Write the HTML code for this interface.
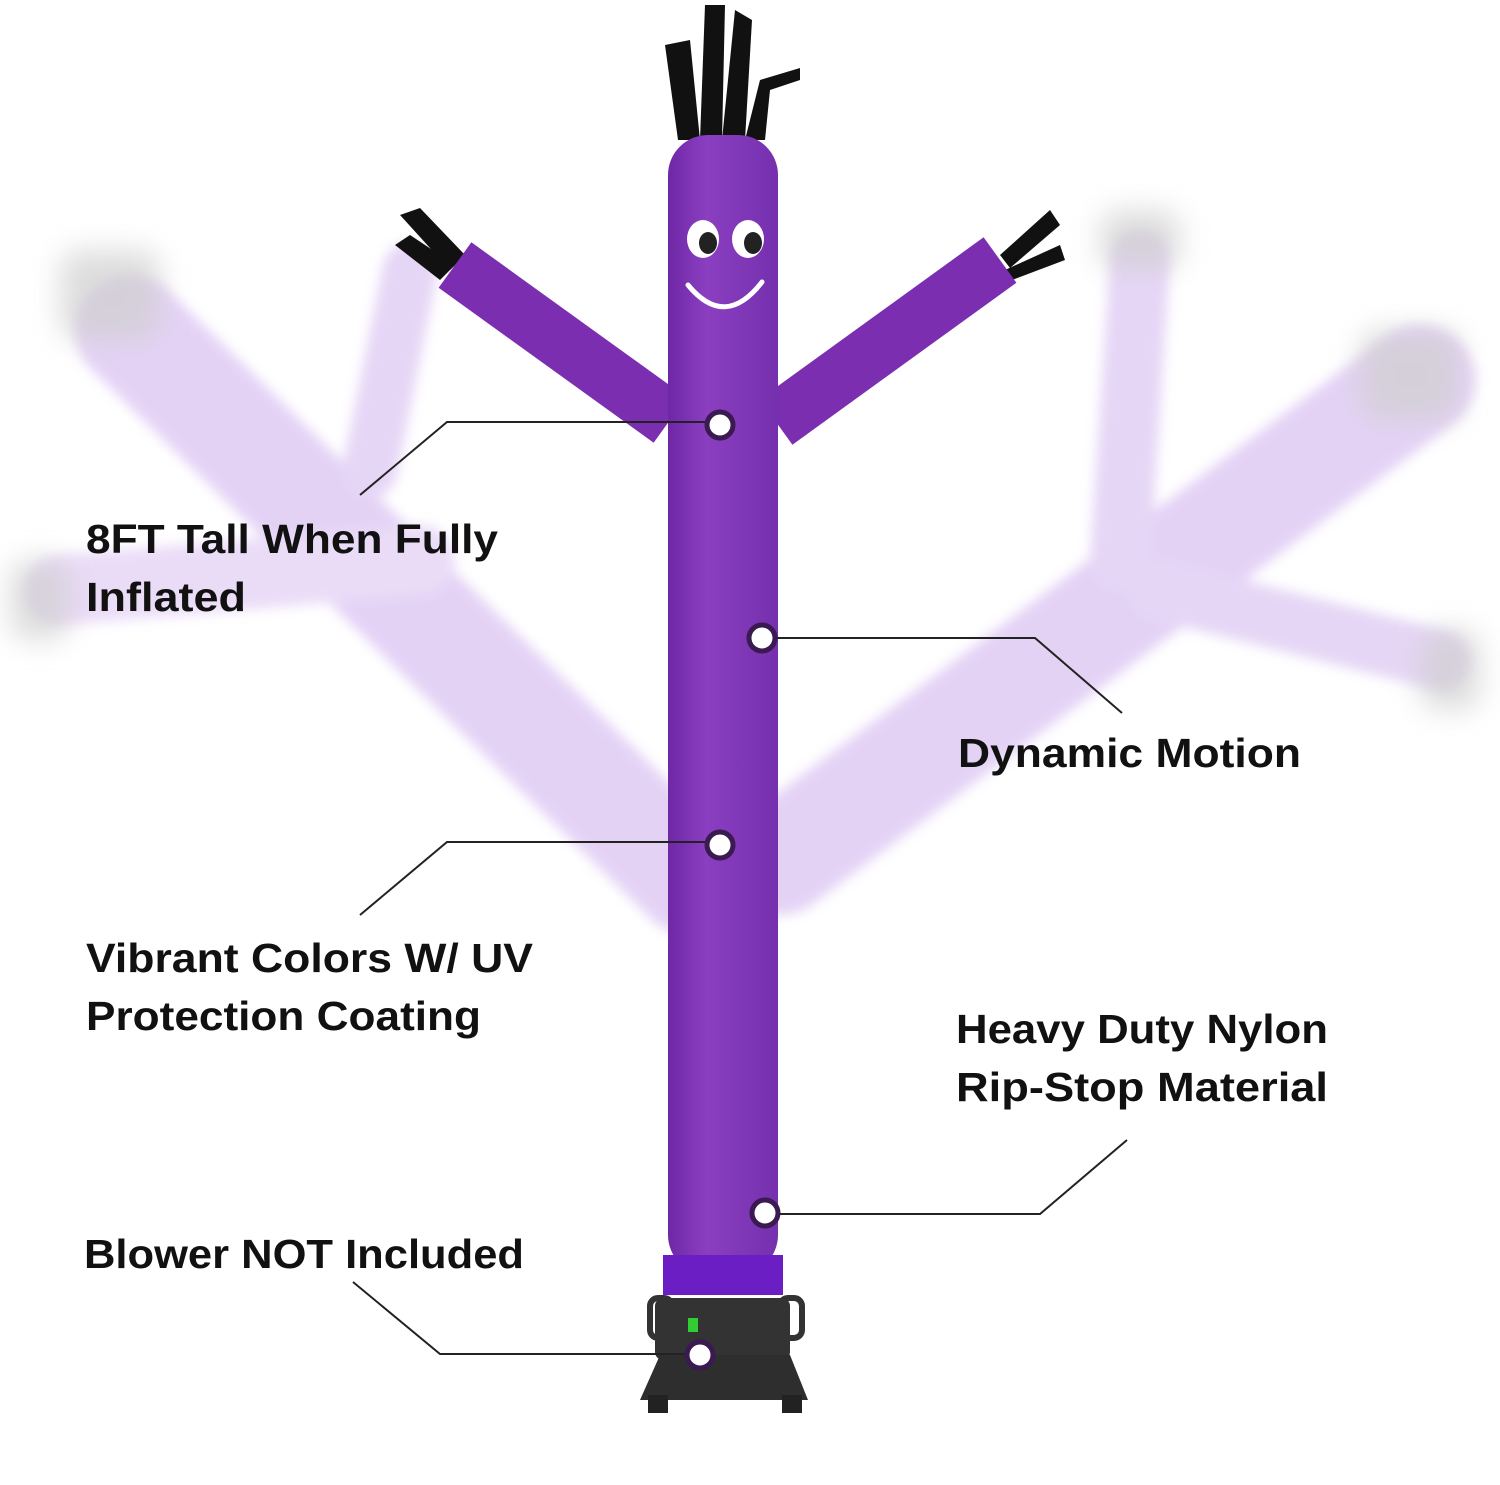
<!DOCTYPE html>
<html><head><meta charset="utf-8"><style>
html,body{margin:0;padding:0;background:#fff;}
svg{display:block;}
text{font-family:"Liberation Sans",sans-serif;font-weight:bold;font-size:41px;fill:#111;}
</style></head><body>
<svg width="1500" height="1485" viewBox="0 0 1500 1485" xmlns="http://www.w3.org/2000/svg">
<defs>
<filter id="bl" x="-20%" y="-20%" width="140%" height="140%"><feGaussianBlur stdDeviation="6"/></filter>
<filter id="bl2" x="-20%" y="-20%" width="140%" height="140%"><feGaussianBlur stdDeviation="14"/></filter>
<linearGradient id="tg" x1="0" x2="1"><stop offset="0" stop-color="#6f27a6"/><stop offset="0.35" stop-color="#8a3fc0"/><stop offset="1" stop-color="#7530ae"/></linearGradient>
</defs>
<rect width="1500" height="1485" fill="#fff"/>
<g filter="url(#bl)" stroke-linecap="round" fill="none" opacity="0.7">
<path d="M130 330 L690 880" stroke="#d9c0f2" stroke-width="110"/>
<path d="M60 590 L420 560" stroke="#e2cdf5" stroke-width="70"/>
<path d="M410 270 L370 470" stroke="#dcc5f3" stroke-width="55"/>
<path d="M1420 380 L780 860" stroke="#d9c0f2" stroke-width="110"/>
<path d="M1140 260 L1120 560" stroke="#dcc5f3" stroke-width="60"/>
<path d="M1160 590 L1440 660" stroke="#dcc5f3" stroke-width="60"/>
</g>
<g filter="url(#bl2)" fill="#cfcfcf" opacity="0.7">
<rect x="60" y="250" width="100" height="90" rx="20"/>
<rect x="10" y="560" width="60" height="80" rx="20"/>
<rect x="1100" y="210" width="80" height="60" rx="20"/>
<rect x="1360" y="330" width="100" height="90" rx="20"/>
<rect x="1420" y="630" width="60" height="80" rx="20"/>
</g>
<g fill="#111">
<path d="M678 140 L665 45 L690 40 L700 140 Z"/>
<path d="M700 140 L705 5 L725 5 L722 140 Z"/>
<path d="M722 140 L735 10 L752 20 L745 140 Z"/>
<path d="M745 140 L760 80 L800 68 L800 80 L770 90 L765 140 Z"/>
<path d="M450 270 L400 215 L420 208 L465 255 Z"/>
<path d="M440 280 L395 245 L410 235 L455 265 Z"/>
<path d="M1000 255 L1050 210 L1060 225 L1010 268 Z"/>
<path d="M1005 270 L1060 245 L1065 260 L1012 280 Z"/>
</g>
<path d="M455 265 L670 420" stroke="#7b2fb0" stroke-width="56"/>
<path d="M1000 260 L776 422" stroke="#7b2fb0" stroke-width="56"/>
<rect x="668" y="135" width="110" height="1140" rx="40" fill="url(#tg)"/>
<rect x="663" y="1255" width="120" height="40" fill="#6a1ec4"/>
<rect x="655" y="1298" width="135" height="62" rx="8" fill="#333"/>
<rect x="650" y="1298" width="22" height="40" rx="8" fill="none" stroke="#333" stroke-width="6"/>
<rect x="780" y="1298" width="22" height="40" rx="8" fill="none" stroke="#333" stroke-width="6"/>
<path d="M660 1355 L790 1355 L808 1400 L640 1400 Z" fill="#2e2e2e"/>
<rect x="648" y="1395" width="20" height="18" fill="#222"/><rect x="782" y="1395" width="20" height="18" fill="#222"/>
<rect x="688" y="1318" width="10" height="14" fill="#3c3"/>
<ellipse cx="703" cy="239" rx="16" ry="19" fill="#fff"/><ellipse cx="708" cy="243" rx="9" ry="11" fill="#222"/>
<ellipse cx="748" cy="239" rx="16" ry="19" fill="#fff"/><ellipse cx="753" cy="243" rx="9" ry="11" fill="#222"/>
<path d="M688 285 Q725 330 762 282" stroke="#fff" stroke-width="5" fill="none" stroke-linecap="round"/>
<g stroke="#222" stroke-width="2" fill="none">
<path d="M360 495 L447 422 L705 422"/>
<path d="M777 638 L1035 638 L1122 713"/>
<path d="M705 842 L447 842 L360 915"/>
<path d="M780 1214 L1040 1214 L1127 1140"/>
<path d="M353 1282 L440 1354 L688 1354"/>
</g>
<g fill="#fff" stroke="#3a1a50" stroke-width="5">
<circle cx="720" cy="425" r="13"/>
<circle cx="762" cy="638" r="13"/>
<circle cx="720" cy="845" r="13"/>
<circle cx="765" cy="1213" r="13"/>
<circle cx="700" cy="1355" r="13"/>
</g>
<text x="86" y="553" textLength="412" lengthAdjust="spacingAndGlyphs">8FT Tall When Fully</text>
<text x="86" y="611" textLength="160" lengthAdjust="spacingAndGlyphs">Inflated</text>
<text x="958" y="767" textLength="343" lengthAdjust="spacingAndGlyphs">Dynamic Motion</text>
<text x="86" y="972" textLength="447" lengthAdjust="spacingAndGlyphs">Vibrant Colors W/ UV</text>
<text x="86" y="1030" textLength="395" lengthAdjust="spacingAndGlyphs">Protection Coating</text>
<text x="956" y="1043" textLength="372" lengthAdjust="spacingAndGlyphs">Heavy Duty Nylon</text>
<text x="956" y="1101" textLength="372" lengthAdjust="spacingAndGlyphs">Rip-Stop Material</text>
<text x="84" y="1268" textLength="440" lengthAdjust="spacingAndGlyphs">Blower NOT Included</text>
</svg>
</body></html>
